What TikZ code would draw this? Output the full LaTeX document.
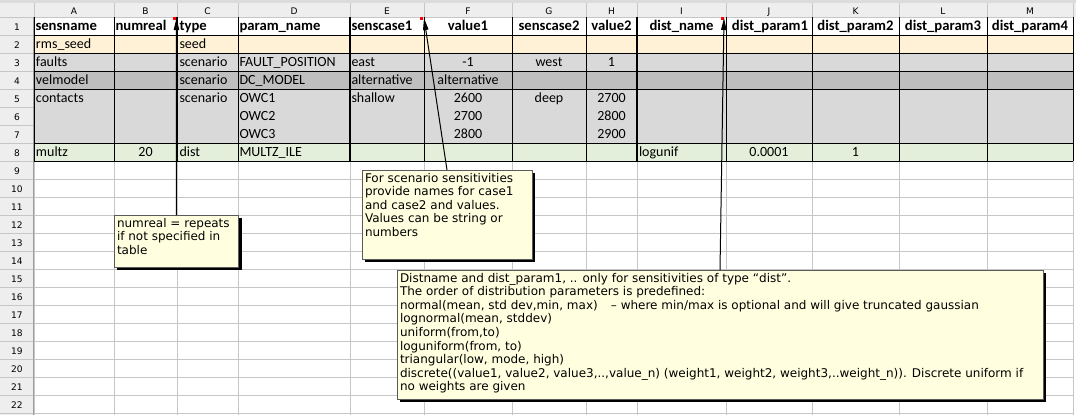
\documentclass[tikz,border=0pt]{standalone}
\usepackage{fontspec}
\setmainfont{Carlito}
\newfontfamily\notefont{DejaVu Sans}
\usepackage{tikz}
\usetikzlibrary{arrows.meta,shadows}
\definecolor{gridgray}{HTML}{C6C6C6}
\definecolor{headgray}{HTML}{EEEEEE}
\definecolor{topgray}{HTML}{DCDCDC}
\definecolor{edgegray}{HTML}{9E9E9E}
\definecolor{seedorange}{HTML}{FFF1D6}
\definecolor{scengray}{HTML}{D9D9D9}
\definecolor{scendark}{HTML}{BFBFBF}
\definecolor{distgreen}{HTML}{E3EFDA}
\definecolor{noteyellow}{HTML}{FFFFE0}
\definecolor{noteframe}{HTML}{5A5A5A}
\definecolor{markred}{HTML}{FF0000}

\begin{document}
\begin{tikzpicture}[
    x=0.75pt, y=-0.75pt,
    >={Triangle[length=9pt,width=4pt]},
    every node/.style={inner sep=0pt, outer sep=0pt},
    lcell/.style={anchor=base west, font=\fontsize{10.5}{12}\selectfont},
    ccell/.style={anchor=base, font=\fontsize{10.5}{12}\selectfont},
    lhead/.style={anchor=base west, font=\fontsize{11}{12}\selectfont\bfseries},
    chead/.style={anchor=base, font=\fontsize{11}{12}\selectfont\bfseries},
    hcell/.style={anchor=base, font=\notefont\fontsize{6.8}{8}\selectfont},
    note/.style={draw=noteframe, line width=0.6pt, fill=noteyellow, anchor=north west,
        inner sep=2.25pt, font=\notefont\fontsize{9}{10.2}\selectfont,
        drop shadow={shadow xshift=2.25pt, shadow yshift=-2.25pt, fill=black, opacity=1}},
    tableline/.style={black, line width=0.75pt},
    arrow/.style={->, line width=0.75pt}
]
    \useasboundingbox (0,0) rectangle (1076,415);

    % === SHEET BACKGROUND ===
    \fill[white] (0,0) rectangle (1076,415);
    \fill[topgray] (0,0) rectangle (1076,3);
    \fill[headgray] (0,3) rectangle (1076,17);
    \fill[headgray] (0,17) rectangle (34,415);

    % light cell grid
    \foreach \x in {34,114,177,238,350,424,512,586,637,726,812,899,987,1073} {
        \draw[gridgray, line width=0.75pt] (\x,3) -- (\x,415);
    }
    \foreach \r in {0,...,22} {
        \draw[gridgray, line width=0.75pt] (0,{17+18*\r}) -- (1073,{17+18*\r});
    }
    \draw[edgegray, line width=0.75pt] (33.5,17) -- (33.5,415);

    % column letters and row numbers
    \foreach \c/\x in {A/74,B/145.5,C/207.5,D/294,E/387,F/468,G/549,H/611.5,I/681.5,J/769,K/855.5,L/943,M/1030} {
        \node[hcell] (col\c) at (\x,14) {\c};
    }
    \foreach \r in {1,...,22} {
        \node[hcell] (row\r) at (17,{12+18*\r}) {\r};
    }

    % === TABLE ROWS ===
    \fill[seedorange] (34,35) rectangle (1073,53);
    \fill[scengray] (34,53) rectangle (1073,71);
    \fill[scendark] (34,71) rectangle (1073,89);
    \fill[scengray] (34,89) rectangle (1073,143);
    \fill[distgreen] (34,143) rectangle (1073,161);

    % table borders
    \foreach \x in {34,114,238,424,512,586,726,812,899,987,1073} {
        \draw[tableline] (\x,17) -- (\x,161);
    }
    \foreach \x in {177,350,637} {
        \draw[tableline, line width=1.5pt] (\x,17) -- (\x,161);
    }
    \foreach \y in {35,53,71,89,143,161} {
        \draw[tableline] (34,\y) -- (1073,\y);
    }

    % header row
    \node[lhead] (A1) at (35.5,30.5) {sensname};
    \node[lhead] (B1) at (115.5,30.5) {numreal};
    \node[lhead] (C1) at (179.5,30.5) {type};
    \node[lhead] (D1) at (239.5,30.5) {param\_name};
    \node[lhead] (E1) at (351.5,30.5) {senscase1};
    \node[chead] (F1) at (468,30.5) {value1};
    \node[chead] (G1) at (549,30.5) {senscase2};
    \node[chead] (H1) at (611.5,30.5) {value2};
    \node[chead] (I1) at (681.5,30.5) {dist\_name};
    \node[chead] (J1) at (770,30.5) {dist\_param1};
    \node[chead] (K1) at (855.5,30.5) {dist\_param2};
    \node[chead] (L1) at (943,30.5) {dist\_param3};
    \node[chead] (M1) at (1030,30.5) {dist\_param4};

    % seed row
    \node[lcell] (A2) at (36,48.5) {rms\_seed};
    \node[lcell] (C2) at (179.5,48.5) {seed};

    % scenario rows
    \node[lcell] (A3) at (36,66.5) {faults};
    \node[lcell] (C3) at (179.5,66.5) {scenario};
    \node[lcell] (D3) at (239.5,66.5) {FAULT\_POSITION};
    \node[lcell] (E3) at (351.5,66.5) {east};
    \node[ccell] (F3) at (468,66.5) {-1};
    \node[ccell] (G3) at (549,66.5) {west};
    \node[ccell] (H3) at (611.5,66.5) {1};

    \node[lcell] (A4) at (36,84.5) {velmodel};
    \node[lcell] (C4) at (179.5,84.5) {scenario};
    \node[lcell] (D4) at (239.5,84.5) {DC\_MODEL};
    \node[lcell] (E4) at (351.5,84.5) {alternative};
    \node[ccell] (F4) at (468,84.5) {alternative};

    \node[lcell] (A5) at (36,102.5) {contacts};
    \node[lcell] (C5) at (179.5,102.5) {scenario};
    \node[lcell] (D5) at (239.5,102.5) {OWC1};
    \node[lcell] (E5) at (351.5,102.5) {shallow};
    \node[ccell] (F5) at (468,102.5) {2600};
    \node[ccell] (G5) at (549,102.5) {deep};
    \node[ccell] (H5) at (611.5,102.5) {2700};
    \node[lcell] (D6) at (239.5,120.5) {OWC2};
    \node[ccell] (F6) at (468,120.5) {2700};
    \node[ccell] (H6) at (611.5,120.5) {2800};
    \node[lcell] (D7) at (239.5,138.5) {OWC3};
    \node[ccell] (F7) at (468,138.5) {2800};
    \node[ccell] (H7) at (611.5,138.5) {2900};

    % dist row
    \node[lcell] (A8) at (36,156.5) {multz};
    \node[ccell] (B8) at (145.5,156.5) {20};
    \node[lcell] (C8) at (179.5,156.5) {dist};
    \node[lcell] (D8) at (239.5,156.5) {MULTZ\_ILE};
    \node[lcell] (I8) at (639,156.5) {logunif};
    \node[ccell] (J8) at (769,156.5) {0.0001};
    \node[ccell] (K8) at (855.5,156.5) {1};

    % === COMMENT MARKERS ===
    \fill[markred] (173,17) rectangle (176,20);
    \fill[markred] (420,17) rectangle (423,20);
    \fill[markred] (721,17) rectangle (724,20);
    \coordinate (numrealtip) at (176.5,18);
    \coordinate (scentip) at (424,18);
    \coordinate (disttip) at (724,18);

    % === COMMENTS ===
    \node[note] (numrealnote) at (114,215) {\parbox[c][34.5pt][t]{89pt}{\raggedright
        numreal = repeats\\
        if not specified in\\
        table}};
    \node[note] (scennote) at (362,170) {\parbox[c][62.25pt][t]{123pt}{\raggedright
        For scenario sensitivities\\
        provide names for case1\\
        and case2 and values.\\
        Values can be string or\\
        numbers}};
    \node[note] (distnote) at (397,270) {\parbox[c][92.25pt][t]{480pt}{\raggedright
        Distname and dist\_param1, .. only for sensitivities of type “dist”.\\
        The order of distribution parameters is predefined:\\
        normal(mean, std dev,min, max)\hspace{7pt} – where min/max is optional and will give truncated gaussian\\
        lognormal(mean, stddev)\\
        uniform(from,to)\\
        loguniform(from, to)\\
        triangular(low, mode, high)\\
        discrete((value1, value2, value3,..,value\_n) (weight1, weight2, weight3,..weight\_n)). Discrete uniform if\\
        no weights are given}};

    % arrows to markers
    \draw[arrow] (numrealnote.north) -- (numrealtip);
    \draw[arrow] (scennote.north) -- (scentip);
    \draw[arrow] (distnote.north) -- (disttip);
\end{tikzpicture}
\end{document}
